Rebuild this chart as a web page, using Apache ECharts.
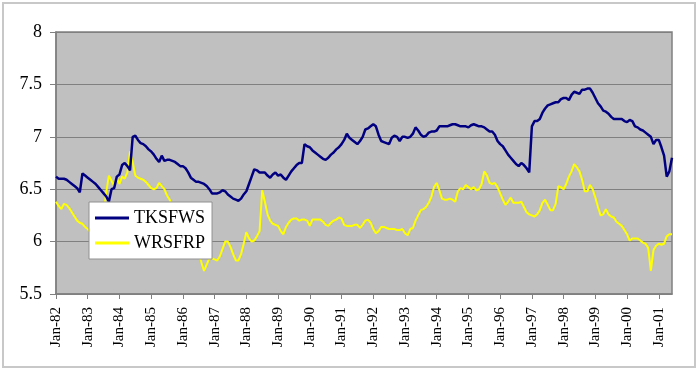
<!DOCTYPE html>
<html>
<head>
<meta charset="utf-8">
<script src="https://cdn.jsdelivr.net/npm/echarts@6/dist/echarts.min.js"></script>
<style>
html,body{margin:0;padding:0;background:#fff;}
#c{width:699px;height:371px;}
</style>
</head>
<body>
<div id="c"></div>
<script>
// Monthly data Jan-82 .. Jun-01
const monthNames = ['Jan','Feb','Mar','Apr','May','Jun','Jul','Aug','Sep','Oct','Nov','Dec'];
const startYear = 1982;
const seriesNames = ['TKSFWS', 'WRSFRP'];

const tksfws = [
  // 1982
  6.62, 6.60, 6.60, 6.60, 6.59, 6.57, 6.55, 6.53, 6.51, 6.47, 6.65, 6.63,
  // 1983
  6.61, 6.59, 6.57, 6.55, 6.52, 6.49, 6.46, 6.43, 6.38, 6.50, 6.51, 6.62,
  // 1984
  6.64, 6.73, 6.75, 6.72, 6.68, 7.00, 7.01, 6.97, 6.94, 6.93, 6.91, 6.88,
  // 1985
  6.86, 6.83, 6.79, 6.76, 6.82, 6.77, 6.78, 6.78, 6.77, 6.76, 6.74, 6.72,
  // 1986
  6.72, 6.70, 6.66, 6.61, 6.59, 6.57, 6.57, 6.56, 6.55, 6.53, 6.50, 6.46,
  // 1987
  6.46, 6.46, 6.47, 6.49, 6.48, 6.45, 6.43, 6.41, 6.40, 6.39, 6.41, 6.45,
  // 1988
  6.48, 6.55, 6.62, 6.69, 6.68, 6.66, 6.66, 6.66, 6.63, 6.61, 6.64, 6.66,
  // 1989
  6.63, 6.64, 6.61, 6.59, 6.63, 6.67, 6.70, 6.73, 6.75, 6.75, 6.93, 6.91,
  // 1990
  6.90, 6.87, 6.85, 6.83, 6.81, 6.79, 6.78, 6.80, 6.83, 6.85, 6.88, 6.90,
  // 1991
  6.93, 6.97, 7.03, 6.99, 6.97, 6.95, 6.93, 6.96, 7.00, 7.07, 7.08, 7.10,
  // 1992
  7.12, 7.10, 7.02, 6.96, 6.95, 6.94, 6.93, 6.99, 7.01, 7.00, 6.96, 7.00,
  // 1993
  7.00, 6.99, 7.00, 7.03, 7.09, 7.06, 7.02, 7.00, 7.01, 7.04, 7.05, 7.05,
  // 1994
  7.06, 7.10, 7.10, 7.10, 7.10, 7.11, 7.12, 7.12, 7.11, 7.10, 7.10, 7.10,
  // 1995
  7.09, 7.11, 7.12, 7.11, 7.10, 7.10, 7.09, 7.07, 7.05, 7.05, 7.02, 6.96,
  // 1996
  6.93, 6.91, 6.87, 6.83, 6.80, 6.77, 6.74, 6.72, 6.75, 6.73, 6.70, 6.66,
  // 1997
  7.10, 7.15, 7.15, 7.17, 7.23, 7.27, 7.30, 7.31, 7.32, 7.33, 7.33, 7.36,
  // 1998
  7.37, 7.37, 7.35, 7.40, 7.43, 7.42, 7.41, 7.45, 7.45, 7.46, 7.46, 7.42,
  // 1999
  7.37, 7.32, 7.29, 7.25, 7.24, 7.22, 7.19, 7.17, 7.17, 7.17, 7.17, 7.15,
  // 2000
  7.14, 7.16, 7.15, 7.10, 7.09, 7.07, 7.06, 7.04, 7.02, 7.00, 6.93, 6.97,
  // 2001
  6.97, 6.90, 6.82, 6.62, 6.67, 6.80
];

const wrsfrp = [
  // 1982
  6.38, 6.34, 6.31, 6.36, 6.35, 6.32, 6.28, 6.24, 6.20, 6.18, 6.17, 6.14,
  // 1983
  6.12, 6.09, 6.06, 6.05, 6.08, 6.15, 6.27, 6.47, 6.63, 6.58, 6.53, 6.61,
  // 1984
  6.55, 6.62, 6.60, 6.66, 6.86, 6.76, 6.63, 6.61, 6.60, 6.59, 6.57, 6.54,
  // 1985
  6.51, 6.50, 6.51, 6.56, 6.53, 6.50, 6.44, 6.40, 6.34, 6.27, 6.20, 6.13,
  // 1986
  6.07, 6.02, 5.97, 5.93, 5.90, 5.88, 5.90, 5.80, 5.72, 5.78, 5.84, 5.84,
  // 1987
  5.83, 5.82, 5.86, 5.93, 6.00, 6.00, 5.95, 5.88, 5.82, 5.82, 5.88, 5.98,
  // 1988
  6.09, 6.03, 6.00, 6.01, 6.05, 6.10, 6.49, 6.38, 6.26, 6.20, 6.17, 6.16,
  // 1989
  6.15, 6.10, 6.07, 6.14, 6.18, 6.21, 6.22, 6.22, 6.20, 6.21, 6.21, 6.20,
  // 1990
  6.15, 6.21, 6.21, 6.21, 6.21, 6.19, 6.16, 6.15, 6.18, 6.20, 6.21, 6.23,
  // 1991
  6.22, 6.16, 6.15, 6.15, 6.15, 6.16, 6.16, 6.13, 6.16, 6.20, 6.21, 6.18,
  // 1992
  6.12, 6.08, 6.10, 6.14, 6.14, 6.13, 6.12, 6.12, 6.12, 6.11, 6.11, 6.12,
  // 1993
  6.08, 6.06, 6.12, 6.13, 6.20, 6.25, 6.30, 6.31, 6.33, 6.37, 6.43, 6.52,
  // 1994
  6.56, 6.49, 6.41, 6.40, 6.40, 6.41, 6.40, 6.38, 6.48, 6.51, 6.50, 6.54,
  // 1995
  6.52, 6.50, 6.52, 6.49, 6.50, 6.55, 6.67, 6.63, 6.56, 6.55, 6.56, 6.52,
  // 1996
  6.46, 6.40, 6.35, 6.38, 6.42, 6.37, 6.37, 6.37, 6.38, 6.33, 6.28, 6.26,
  // 1997
  6.25, 6.24, 6.26, 6.30, 6.37, 6.40, 6.35, 6.30, 6.30, 6.36, 6.53, 6.52,
  // 1998
  6.50, 6.55, 6.62, 6.67, 6.74, 6.71, 6.67, 6.59, 6.48, 6.48, 6.54, 6.50,
  // 1999
  6.42, 6.33, 6.25, 6.26, 6.31, 6.26, 6.24, 6.23, 6.19, 6.17, 6.15, 6.11,
  // 2000
  6.07, 6.01, 6.03, 6.03, 6.03, 6.01, 5.99, 5.98, 5.94, 5.72, 5.92, 5.96,
  // 2001
  5.98, 5.97, 5.98, 6.05, 6.07, 6.07
];

const yMin = 5.5, yMax = 8, yStep = 0.5;

const categories = [];
for (let i = 0; i < tksfws.length; i++) {
  const y = startYear + Math.floor(i / 12);
  categories.push(monthNames[i % 12] + '-' + String(y % 100).padStart(2, '0'));
}

const chart = echarts.init(document.getElementById('c'), null, {renderer: 'canvas'});
const serif = '"Liberation Serif", "DejaVu Serif", serif';
const isJan = (idx) => idx % 12 === 0;

chart.setOption({
  animation: false,
  backgroundColor: '#ffffff',
  graphic: [{
    type: 'rect',
    shape: {x: 3, y: 3, width: 692, height: 364},
    style: {fill: 'none', stroke: '#c8c8c8', lineWidth: 2},
    z: -1
  }],
  grid: {
    left: 56, right: 27, top: 32, bottom: 77,
    show: true,
    backgroundColor: '#c0c0c0',
    borderColor: '#808080',
    borderWidth: 1.5
  },
  legend: {
    orient: 'vertical',
    left: 89, top: 202,
    backgroundColor: '#ffffff',
    borderColor: '#909090',
    borderWidth: 1,
    padding: [7, 7, 7, 6],
    itemWidth: 34,
    itemHeight: 3,
    itemGap: 7,
    icon: 'rect',
    textStyle: {fontFamily: serif, fontSize: 18, color: '#000', lineHeight: 18},
    data: seriesNames
  },
  xAxis: {
    type: 'category',
    data: categories,
    boundaryGap: false,
    axisLine: {lineStyle: {color: '#808080', width: 1.5}},
    axisTick: {show: true, interval: isJan, length: 5, lineStyle: {color: '#808080'}},
    axisLabel: {
      interval: isJan,
      rotate: 90,
      margin: 13,
      fontFamily: serif,
      fontSize: 15,
      color: '#000'
    },
    splitLine: {show: false}
  },
  yAxis: {
    type: 'value',
    min: yMin, max: yMax, interval: yStep,
    axisLine: {show: true, lineStyle: {color: '#808080', width: 1.5}},
    axisTick: {show: true, length: 6, lineStyle: {color: '#808080'}},
    axisLabel: {
      fontFamily: serif,
      fontSize: 18,
      color: '#000',
      margin: 14
    },
    splitLine: {show: true, lineStyle: {color: '#808080', width: 1}}
  },
  series: [
    {
      name: seriesNames[0],
      type: 'line',
      data: tksfws,
      symbol: 'none',
      lineStyle: {color: '#000080', width: 2.5},
      itemStyle: {color: '#000080'},
      z: 3
    },
    {
      name: seriesNames[1],
      type: 'line',
      data: wrsfrp,
      symbol: 'none',
      lineStyle: {color: '#ffff00', width: 2},
      itemStyle: {color: '#ffff00'},
      z: 2
    }
  ]
});
</script>
</body>
</html>
